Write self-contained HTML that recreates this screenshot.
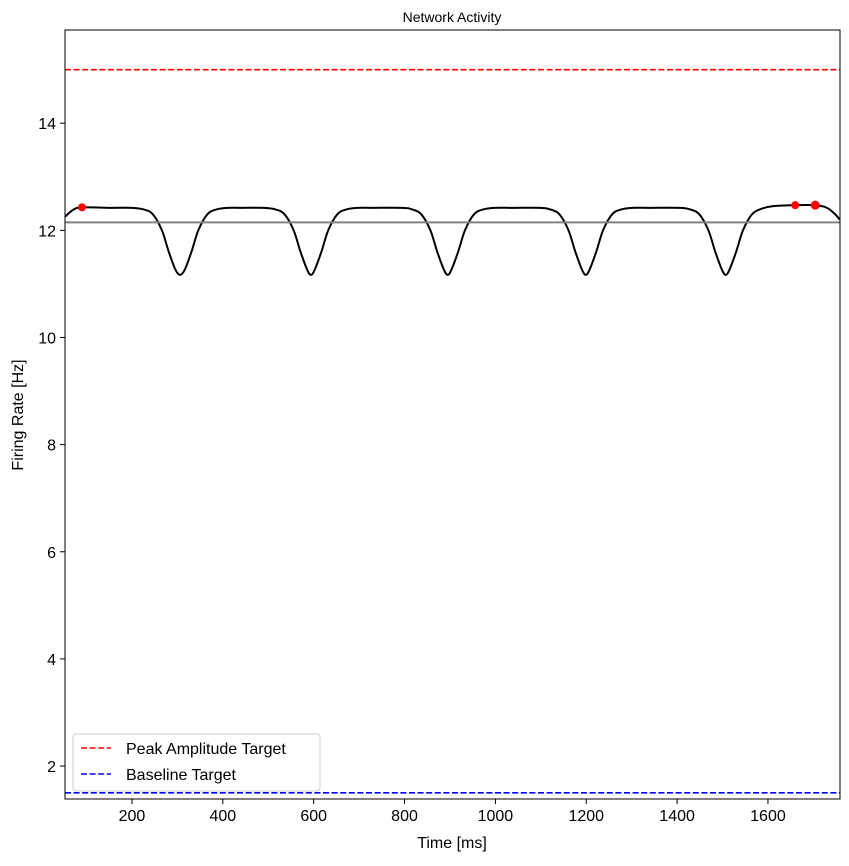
<!DOCTYPE html>
<html><head><meta charset="utf-8"><style>
body{margin:0;background:#fff;}
text{font-family:"Liberation Sans","DejaVu Sans",sans-serif;}
</style></head><body>
<svg id="chart" width="849" height="861" xmlns="http://www.w3.org/2000/svg">
<rect width="849" height="861" fill="#fff"/>
<g id="plot"></g>
</svg>
<script>
const xTicks=[200,400,600,800,1000,1200,1400,1600];
const yTicks=[2,4,6,8,10,12,14];
const times=[52,70,90,150,200,226,246,266,281,296,306,316,331,346,366,386,410,
 440,492,516,536,556,571,586,594,602,617,632,652,672,696,
 730,795,817,837,857,872,887,895,903,918,933,953,973,997,
 1040,1099,1121,1141,1161,1176,1191,1199,1207,1222,1237,1257,1277,1301,
 1340,1407,1429,1449,1469,1484,1499,1507,1515,1530,1545,1565,1585,1610,
 1660,1704,1730,1748,1758];
const rates=[12.25,12.38,12.43,12.42,12.42,12.39,12.3,12.0,11.6,11.26,11.17,11.26,11.6,12.0,12.3,12.39,12.42,
 12.42,12.42,12.39,12.3,12.0,11.6,11.26,11.17,11.26,11.6,12.0,12.3,12.39,12.42,
 12.42,12.42,12.39,12.3,12.0,11.6,11.26,11.17,11.26,11.6,12.0,12.3,12.39,12.42,
 12.42,12.42,12.39,12.3,12.0,11.6,11.26,11.17,11.26,11.6,12.0,12.3,12.39,12.42,
 12.42,12.42,12.39,12.3,12.0,11.6,11.26,11.17,11.26,11.6,12.0,12.3,12.4,12.45,
 12.47,12.47,12.42,12.3,12.2];
const peakTimes=[90,1660,1704];
const peakRates=[12.43,12.47,12.47];
const meanRate=12.15;
const peakTarget=15;
const baselineTarget=1.5;
const xMin=52.6,xMax=1758.6,yMin=1.385,yMax=15.74;
const L=65,R=840,T=30,B=799;
const X=t=>L+(t-xMin)/(xMax-xMin)*(R-L);
const Y=v=>B-(v-yMin)/(yMax-yMin)*(B-T);
const NS="http://www.w3.org/2000/svg";
const g=document.getElementById('plot');
function mk(tag,attrs,parent){const e=document.createElementNS(NS,tag);for(const k in attrs)e.setAttribute(k,attrs[k]);(parent||g).appendChild(e);return e;}
const cp=mk('clipPath',{id:'clip'});mk('rect',{x:L,y:T,width:R-L,height:B-T},cp);
let l1=mk('line',{x1:L,x2:R,y1:Y(peakTarget),y2:Y(peakTarget),stroke:'#ff0000','stroke-width':1.6,'stroke-dasharray':'6,2.6'});


let l2=mk('line',{x1:L,x2:R,y1:Y(baselineTarget),y2:Y(baselineTarget),stroke:'#0000ff','stroke-width':1.6,'stroke-dasharray':'6,2.6'});


const pts=times.map((t,i)=>[X(t),Y(rates[i])]);
let d='M'+pts[0][0]+','+pts[0][1];
for(let i=0;i<pts.length-1;i++){const p0=pts[Math.max(0,i-1)],p1=pts[i],p2=pts[i+1],p3=pts[Math.min(pts.length-1,i+2)];
 d+=` C${p1[0]+(p2[0]-p0[0])/6},${p1[1]+(p2[1]-p0[1])/6} ${p2[0]-(p3[0]-p1[0])/6},${p2[1]-(p3[1]-p1[1])/6} ${p2[0]},${p2[1]}`;}
let cv=mk('path',{d:d,fill:'none',stroke:'#000','stroke-width':2,'clip-path':'url(#clip)'});


let ml=mk('line',{x1:L,x2:R,y1:Y(meanRate),y2:Y(meanRate),stroke:'#808080','stroke-width':2});


peakTimes.forEach((t,i)=>{const c=mk('circle',{cx:X(t),cy:Y(peakRates[i]),r:i==2?4.5:4,fill:'#ff0000'});
 
 });
let fr=mk('rect',{x:L,y:T,width:R-L,height:B-T,fill:'none',stroke:'#000','stroke-width':1});


xTicks.forEach(t=>{mk('line',{x1:X(t),x2:X(t),y1:B,y2:B+5,stroke:'#000'});
 const tx=mk('text',{x:X(t),y:B+22,'text-anchor':'middle','font-size':16});tx.textContent=t;
 
 });
yTicks.forEach(v=>{mk('line',{x1:L-5,x2:L,y1:Y(v),y2:Y(v),stroke:'#000'});
 const tx=mk('text',{x:L-9,y:Y(v)+6,'text-anchor':'end','font-size':16});tx.textContent=v;
 
 });
</script>
<svg style="position:absolute;left:0;top:0" width="849" height="861">
<text x="452" y="22" text-anchor="middle" font-size="14">Network Activity</text>
<text x="452" y="848" text-anchor="middle" font-size="16">Time [ms]</text>
<text transform="translate(23,415) rotate(-90)" text-anchor="middle" font-size="16">Firing Rate [Hz]</text>
<g>
<rect x="73" y="734" width="247" height="57" rx="3" fill="#fff" fill-opacity="0.8" stroke="#ccc"/>
<line x1="81" x2="111" y1="748" y2="748" stroke="#ff0000" stroke-width="1.6" stroke-dasharray="6,2.6"/>
<text x="126" y="754" font-size="16">Peak Amplitude Target</text>
<line x1="81" x2="111" y1="774" y2="774" stroke="#0000ff" stroke-width="1.6" stroke-dasharray="6,2.6"/>
<text x="126" y="780" font-size="16">Baseline Target</text>
</g>
</svg>
</body></html>
